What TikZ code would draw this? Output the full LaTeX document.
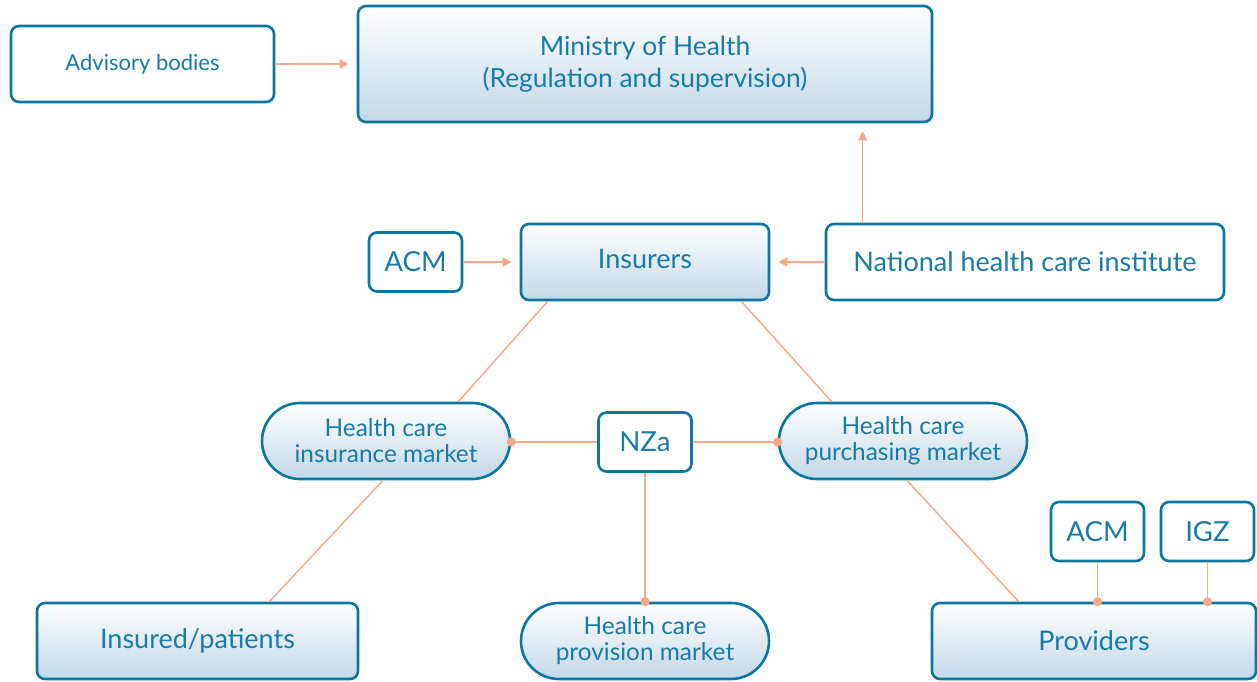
\documentclass[tikz,border=0pt]{standalone}
\usepackage{fontspec}
\setmainfont{Lato}
\usetikzlibrary{arrows.meta,positioning}
\definecolor{boxblue}{HTML}{0B77A0}
\definecolor{textblue}{HTML}{1A7BA6}
\definecolor{linkred}{HTML}{F7A888}
\definecolor{shadeblue}{HTML}{C2D8E7}
\begin{document}
\begin{tikzpicture}[x=0.5pt, y=-0.5pt, node distance=29pt,
    box/.style={draw=boxblue, line width=1.3pt, rounded corners=4pt, align=center,
        text=textblue, inner sep=0pt, minimum height=38pt},
    plainbox/.style={box, fill=white},
    smallbox/.style={plainbox, minimum width=46.5pt, minimum height=29.5pt, font=\fontsize{13.8}{16}\selectfont},
    shadebox/.style={box, top color=white, bottom color=shadeblue},
    market/.style={shadebox, rounded corners=19pt, minimum width=124pt,
        font=\fontsize{12.2}{13}\selectfont},
    link/.style={linkred, line width=0.7pt},
    arrow/.style={link, -{Triangle[length=4.5pt,width=4.5pt]}, shorten >=4pt},
    dot/.style={circle, fill=linkred, inner sep=0pt, minimum size=4.6pt}]
    \useasboundingbox (0,0) rectangle (1257,681);
    \tikzset{every node/.append style={font=\fontsize{13.5}{15}\selectfont}}

    % top row
    \node[shadebox, minimum width=287pt, minimum height=58pt,
        font=\fontsize{13.2}{16}\selectfont] (ministry) at (645,64) {Ministry of Health\\(Regulation and supervision)};
    \node[plainbox, minimum width=131.5pt, font=\fontsize{11}{13}\selectfont] (advisory) at (142.5,64) {Advisory bodies};

    % insurers row
    \node[shadebox, minimum width=124pt] (insurers) at (645,262) {\raisebox{3pt}{Insurers}};
    \node[smallbox, left=28.2pt of insurers] (acmtop) {ACM};
    \node[plainbox, minimum width=199pt, right=27.2pt of insurers] (institute) {National health care institute};

    % markets
    \node[market] (insmarket) at (386,441) {Health care\\insurance market};
    \node[smallbox] (nza) at (645,442) {NZa};
    \node[market] (purchmarket) at (903,441) {Health care\\purchasing market};

    % bottom row
    \node[shadebox, minimum width=160.5pt] (insured) at (197.5,641) {Insured/patients};
    \node[market] (provmarket) at (645,641) {Health care\\provision market};
    \node[shadebox, minimum width=162pt] (providers) at (1094,641) {Providers};
    \node[smallbox] (acmbottom) at (1097.5,531.5) {ACM};
    \node[smallbox, right=7.2pt of acmbottom] (igz) {IGZ};

    % arrows
    \draw[arrow] (advisory) -- (ministry);
    \draw[arrow] (acmtop.east) -- (acmtop.east -| insurers.west);
    \draw[arrow] (institute.west) -- (insurers.east);
    \draw[arrow] ([xshift=19pt]institute.north west) -- ([xshift=19pt]institute.north west |- ministry.south);

    % market links
    \draw[link] ([xshift=14pt]insurers.south west) -- ([xshift=-26.5pt]insmarket.north east);
    \draw[link] ([xshift=-14.5pt]insurers.south east) -- ([xshift=27pt]purchmarket.north west);
    \draw[link] ([xshift=-1.5pt]insmarket.south) -- ([xshift=-45pt]insured.north east);
    \draw[link] ([xshift=2pt]purchmarket.south) -- ([xshift=44pt]providers.north west);
    \draw[link] (nza.west) -- (nza.west -| insmarket.east) node[dot] {};
    \draw[link] (nza.east) -- (nza.east -| purchmarket.west) node[dot] {};
    \draw[link] (nza.south) -- (provmarket.north) node[dot] {};
    \draw[link] (acmbottom.south) -- (acmbottom.south |- providers.north) node[dot] {};
    \draw[link] (igz.south) -- (igz.south |- providers.north) node[dot] {};
\end{tikzpicture}
\end{document}
